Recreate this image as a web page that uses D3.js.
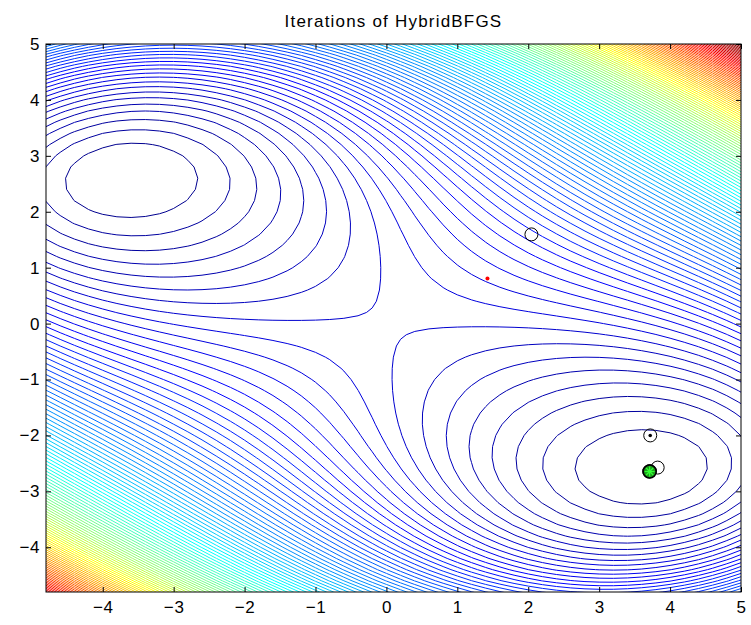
<!DOCTYPE html>
<html>
<head>
<meta charset="utf-8">
<script src="https://cdn.jsdelivr.net/npm/d3@7"></script>
<style>
  body { margin: 0; background: #fff; }
  text { font-family: "Liberation Sans", Arial, Helvetica, sans-serif; }
</style>
</head>
<body>
<div class="container"></div>
<script>
// initial setup
const w = 751;
const h = 625;

const [margin_top, margin_left, margin_bottom, margin_right] = [44, 46, 33, 10];

const plotWidth = w - margin_left - margin_right;
const plotHeight = h - margin_top - margin_bottom;

// axes
const xDomain = [-4.8, 5];
const yDomain = [-4.8, 5];
const xTicks = [-4, -3, -2, -1, 0, 1, 2, 3, 4, 5];
const yTicks = [-4, -3, -2, -1, 0, 1, 2, 3, 4, 5];

// surface sampled on a coarse grid, read off the contour shapes:
// f = c0*x*y + c1*x^4 + c2*x^2*y^2 + c3*y^4
const surfaceCoefs = [1, 0.00601, 0.029, 0.02334];
const gridStep = 0.2;
const nLevels = 112;

// iterates of the optimiser
const startX = [1.425];
const startY = [0.806];
const iterX = [2.045, 3.72, 3.825, 3.705, 3.715];
const iterY = [1.595, -2.0, -2.575, -2.645, -2.64];
const dotX = [3.72];
const dotY = [-2.0];
const finalX = [3.712];
const finalY = [-2.645];

const svg = d3.select('.container')
              .append('svg')
              .attr('width', w)
              .attr('height', h);

const x = d3.scaleLinear().domain(xDomain).range([0, plotWidth]);
const y = d3.scaleLinear().domain(yDomain).range([plotHeight, 0]);

const plot = svg.append('g')
                .attr('transform', `translate(${margin_left}, ${margin_top})`);

svg.append('defs').append('clipPath').attr('id', 'clip')
   .append('rect').attr('width', plotWidth).attr('height', plotHeight);

// grid one step wider than the axes so lines run to the frame
const f = (px, py) => {
    const [c0, c1, c2, c3] = surfaceCoefs;
    return c0 * px * py + c1 * px ** 4 + c2 * px * px * py * py + c3 * py ** 4;
};
const gx0 = xDomain[0] - gridStep;
const gy0 = yDomain[0] - gridStep;
const nx = Math.round((xDomain[1] - xDomain[0]) / gridStep) + 3;
const ny = Math.round((yDomain[1] - yDomain[0]) / gridStep) + 3;
const values = new Array(nx * ny);
let zmin = Infinity, zmax = -Infinity;
for (let j = 0; j < ny; j++) {
    for (let i = 0; i < nx; i++) {
        const v = f(gx0 + i * gridStep, gy0 + j * gridStep);
        values[j * nx + i] = v;
        if (i > 0 && i < nx - 1 && j > 0 && j < ny - 1) {
            zmin = Math.min(zmin, v);
            zmax = Math.max(zmax, v);
        }
    }
}
const levels = d3.range(1, nLevels + 1).map(i => zmin + i * (zmax - zmin) / (nLevels + 1));

// matlab jet(64)
const jet = (() => {
    const n = 16, u = [];
    for (let i = 1; i <= n; i++) u.push(i / n);
    for (let i = 0; i < n - 1; i++) u.push(1);
    for (let i = n; i >= 1; i--) u.push(i / n);
    const at = k => (k >= 0 && k < u.length) ? u[k] : 0;
    const cols = [];
    for (let k = 1; k <= 64; k++) {
        const r = at(k - 25), g = at(k - 9), b = at(k + 7);
        cols.push(d3.rgb(r * 255, g * 255, b * 255).toString());
    }
    return cols;
})();
const levelColor = v => jet[Math.max(0, Math.min(63, Math.floor((v - zmin) / (zmax - zmin) * 64)))];

const contours = d3.contours().size([nx, ny]).thresholds(levels)(values);
const toPx = d3.geoTransform({
    point(gx, gy) {
        this.stream.point(x(gx0 + (gx - 0.5) * gridStep), y(gy0 + (gy - 0.5) * gridStep));
    }
});
const path = d3.geoPath(toPx);

plot.append('g').attr('clip-path', 'url(#clip)')
    .selectAll('path')
    .data(contours)
    .enter()
    .append('path')
    .attr('d', path)
    .attr('fill', 'none')
    .attr('stroke', d => levelColor(d.value))
    .attr('stroke-width', 1);

// iterates
const marks = plot.append('g');
marks.selectAll('circle.iter')
    .data(d3.range(iterX.length))
    .enter().append('circle')
    .attr('class', 'iter')
    .attr('cx', i => x(iterX[i]))
    .attr('cy', i => y(iterY[i]))
    .attr('r', 6.5)
    .attr('fill', 'none')
    .attr('stroke', '#000')
    .attr('stroke-width', 1);

marks.selectAll('circle.dot')
    .data(d3.range(dotX.length))
    .enter().append('circle')
    .attr('cx', i => x(dotX[i]))
    .attr('cy', i => y(dotY[i]))
    .attr('r', 1.8)
    .attr('fill', '#000');

marks.selectAll('circle.start')
    .data(d3.range(startX.length))
    .enter().append('circle')
    .attr('cx', i => x(startX[i]))
    .attr('cy', i => y(startY[i]))
    .attr('r', 2)
    .attr('fill', '#ff0000');

const fin = marks.selectAll('g.final')
    .data(d3.range(finalX.length))
    .enter().append('g')
    .attr('transform', i => `translate(${x(finalX[i])}, ${y(finalY[i])})`);
fin.append('circle').attr('r', 6.5).attr('fill', '#1c9a1c').attr('stroke', '#000').attr('stroke-width', 1.6);
[0, 45, 90, 135].forEach(a => {
    fin.append('line')
       .attr('x1', -5).attr('x2', 5)
       .attr('transform', `rotate(${a})`)
       .attr('stroke', '#33ff33')
       .attr('stroke-width', 1.2);
});

// axis
const xAxis = d3.axisBottom(x).tickValues(xTicks).tickSizeInner(-5).tickSizeOuter(0).tickPadding(9);
const yAxis = d3.axisLeft(y).tickValues(yTicks).tickSizeInner(-5).tickSizeOuter(0).tickPadding(6);
const xTop = d3.axisTop(x).tickValues(xTicks).tickSizeInner(-5).tickSizeOuter(0).tickFormat('');
const yRight = d3.axisRight(y).tickValues(yTicks).tickSizeInner(-5).tickSizeOuter(0).tickFormat('');

const xGroup = plot.append('g').attr('transform', `translate(0, ${plotHeight})`).call(xAxis);
const yGroup = plot.append('g').call(yAxis);
plot.append('g').call(xTop);
plot.append('g').attr('transform', `translate(${plotWidth}, 0)`).call(yRight);

plot.selectAll('.domain').remove();
plot.selectAll('.tick line').attr('stroke', '#000');
plot.selectAll('.tick text')
    .attr('fill', '#000')
    .style('font-size', '17px')
    .style('letter-spacing', '0.6px');

plot.append('rect')
    .attr('width', plotWidth)
    .attr('height', plotHeight)
    .attr('fill', 'none')
    .attr('stroke', '#000')
    .attr('stroke-width', 1);

svg.append('text')
   .attr('x', margin_left + plotWidth / 2)
   .attr('y', 27)
   .attr('text-anchor', 'middle')
   .style('font-size', '17px')
   .style('letter-spacing', '1.2px')
   .text('Iterations of HybridBFGS');
</script>
</body>
</html>
